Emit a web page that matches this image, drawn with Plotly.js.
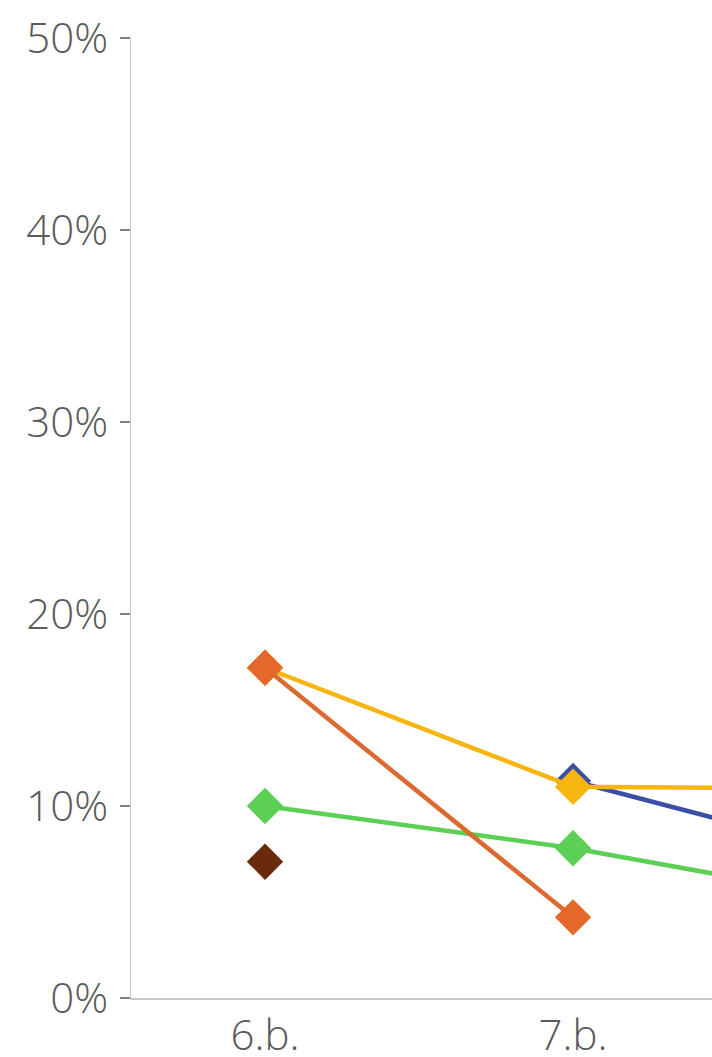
<!DOCTYPE html>
<html>
<head>
<meta charset="utf-8">
<script src="https://cdn.plot.ly/plotly-3.0.1.min.js"></script>
<style>html,body{margin:0;padding:0;background:#fff;}#chart{width:712px;height:1057px;}</style>
</head>
<body>
<div id="chart"></div>
<script>
const categories = ['6.b.', '7.b.', '8.b.'];
const blueValues   = [null, 11.3, 7.1];
const yellowValues = [17.2, 11.0, 10.9];
const greenValues  = [10.0, 7.8, 4.9];
const brownValues  = [7.1, null, null];
const orangeValues = [17.2, 4.2, null];
const yTickValues = [0, 10, 20, 30, 40, 50];
const yTickLabels = ['0%', '10%', '20%', '30%', '40%', '50%'];

function series(y, color, lineColor) {
  return {
    type: 'scatter', mode: 'lines+markers', x: categories, y: y,
    line: {color: lineColor || color, width: 4.5},
    marker: {symbol: 'diamond', size: 28, color: color},
    connectgaps: false, hoverinfo: 'skip'
  };
}

const data = [
  series(blueValues, '#3C4FA6'),
  series(yellowValues, '#F7B50F'),
  series(greenValues, '#5CCF55'),
  series(brownValues, '#6A2B0C'),
  series(orangeValues, '#E4682A', '#DB6A30')
];

const tickFont = {family: 'Open Sans, sans-serif', size: 42, color: '#5a5a5a', weight: 300};

const layout = {
  width: 712, height: 1057,
  margin: {l: 131, r: 0, t: 38, b: 59, pad: 0},
  paper_bgcolor: '#ffffff', plot_bgcolor: '#ffffff',
  showlegend: false,
  font: {family: 'Open Sans, sans-serif', color: '#5a5a5a'},
  xaxis: {
    type: 'category', range: [-0.435, 1.451],
    showgrid: false, zeroline: false,
    showline: true, linecolor: '#C8C8C8', linewidth: 1.5,
    ticks: '', tickfont: tickFont, ticklabelstandoff: 0,
    fixedrange: true
  },
  yaxis: {
    range: [0, 50], tickvals: yTickValues, ticktext: yTickLabels,
    showgrid: false, zeroline: false,
    showline: true, linecolor: '#C8C8C8', linewidth: 1.5,
    ticks: 'outside', ticklen: 10, tickcolor: '#808080', tickwidth: 1.5,
    tickfont: tickFont, ticklabelstandoff: 3,
    fixedrange: true
  }
};

Plotly.newPlot('chart', data, layout, {displayModeBar: false, staticPlot: true});
</script>
</body>
</html>
